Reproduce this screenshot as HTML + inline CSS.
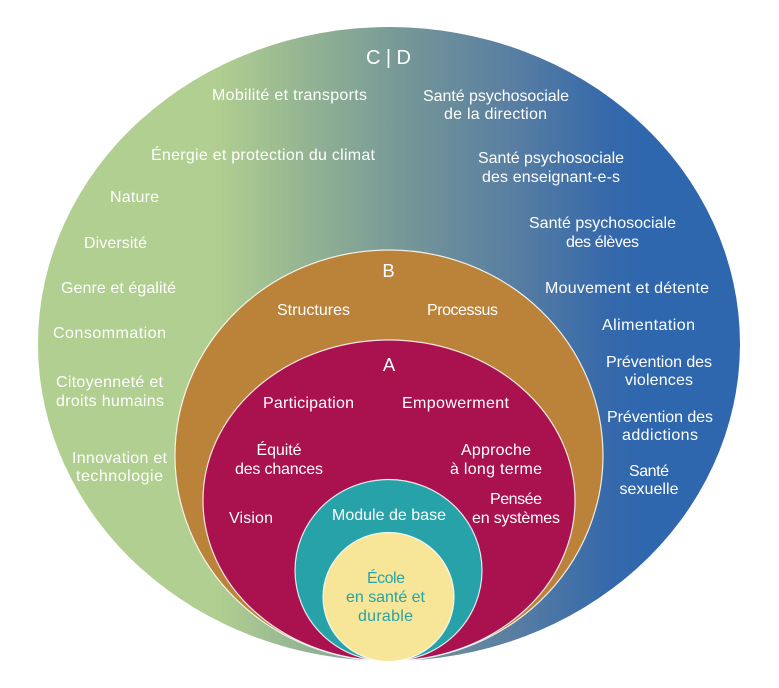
<!DOCTYPE html>
<html>
<head>
<meta charset="utf-8">
<style>
html,body{margin:0;padding:0;background:#fff;}
svg{display:block;}
text{font-family:"Liberation Sans",sans-serif;font-size:16px;fill:#fff;text-anchor:middle;}
</style>
</head>
<body>
<svg width="779" height="688" viewBox="0 0 779 688" xmlns="http://www.w3.org/2000/svg">
<defs>
<linearGradient id="g" gradientUnits="userSpaceOnUse" x1="0" y1="0" x2="779" y2="0">
<stop offset="0" stop-color="#b1cf90"/>
<stop offset="0.276" stop-color="#b1cf90"/>
<stop offset="0.402" stop-color="#91b293"/>
<stop offset="0.530" stop-color="#739598"/>
<stop offset="0.659" stop-color="#587ea2"/>
<stop offset="0.787" stop-color="#3468ab"/>
<stop offset="0.822" stop-color="#2f67ae"/>
<stop offset="1" stop-color="#2f67ae"/>
</linearGradient>
</defs>
<ellipse cx="389" cy="344" rx="351" ry="317" fill="url(#g)"/>
<ellipse cx="389" cy="455.5" rx="214" ry="205.5" fill="#bb823a" stroke="#fff" stroke-opacity="0.85" stroke-width="1.2"/>
<ellipse cx="389" cy="500.5" rx="186" ry="160.5" fill="#a9124e" stroke="#fff" stroke-opacity="0.85" stroke-width="1.2"/>
<ellipse cx="388.5" cy="570.5" rx="93.5" ry="91" fill="#28a2a9" stroke="#fff" stroke-opacity="0.85" stroke-width="1.2"/>
<ellipse cx="388.5" cy="597" rx="65.5" ry="64.5" fill="#f7e697" stroke="#fff" stroke-opacity="0.85" stroke-width="1.2"/>

<text x="388.5" y="64" style="font-size:20px" textLength="45" lengthAdjust="spacing">C | D</text>
<text x="388.5" y="277" style="font-size:18.5px">B</text>
<text x="389" y="371" style="font-size:18.5px">A</text>

<!-- left (C) -->
<text x="289.5" y="100" textLength="155" lengthAdjust="spacing">Mobilité et transports</text>
<text x="263" y="160" textLength="224" lengthAdjust="spacing">Énergie et protection du climat</text>
<text x="134.5" y="202" textLength="49" lengthAdjust="spacing">Nature</text>
<text x="115.5" y="248" textLength="63" lengthAdjust="spacing">Diversité</text>
<text x="118.5" y="293" textLength="115" lengthAdjust="spacing">Genre et égalité</text>
<text x="109.5" y="338" textLength="113" lengthAdjust="spacing">Consommation</text>
<text x="109.5" y="387" textLength="107" lengthAdjust="spacing">Citoyenneté et</text>
<text x="110" y="406" textLength="108" lengthAdjust="spacing">droits humains</text>
<text x="119.5" y="463" textLength="95" lengthAdjust="spacing">Innovation et</text>
<text x="119.5" y="481" textLength="87" lengthAdjust="spacing">technologie</text>

<!-- right (D) -->
<text x="496" y="101" textLength="146" lengthAdjust="spacing">Santé psychosociale</text>
<text x="495.5" y="119" textLength="103" lengthAdjust="spacing">de la direction</text>
<text x="551" y="163" textLength="146" lengthAdjust="spacing">Santé psychosociale</text>
<text x="551" y="182" textLength="138" lengthAdjust="spacing">des enseignant-e-s</text>
<text x="602.5" y="228" textLength="147" lengthAdjust="spacing">Santé psychosociale</text>
<text x="602.5" y="247" textLength="73" lengthAdjust="spacing">des élèves</text>
<text x="627" y="293" textLength="164" lengthAdjust="spacing">Mouvement et détente</text>
<text x="648.5" y="330" textLength="93" lengthAdjust="spacing">Alimentation</text>
<text x="659" y="367" textLength="106" lengthAdjust="spacing">Prévention des</text>
<text x="659" y="385" textLength="68" lengthAdjust="spacing">violences</text>
<text x="660" y="422" textLength="106" lengthAdjust="spacing">Prévention des</text>
<text x="660" y="440" textLength="76" lengthAdjust="spacing">addictions</text>
<text x="649" y="476" textLength="40" lengthAdjust="spacing">Santé</text>
<text x="649" y="494" textLength="59" lengthAdjust="spacing">sexuelle</text>

<!-- B -->
<text x="313.5" y="315" textLength="73" lengthAdjust="spacing">Structures</text>
<text x="462.5" y="315" textLength="71" lengthAdjust="spacing">Processus</text>

<!-- A -->
<text x="308.5" y="408" textLength="91" lengthAdjust="spacing">Participation</text>
<text x="455.5" y="408" textLength="107" lengthAdjust="spacing">Empowerment</text>
<text x="279" y="455" textLength="45" lengthAdjust="spacing">Équité</text>
<text x="279" y="474" textLength="88" lengthAdjust="spacing">des chances</text>
<text x="496" y="455" textLength="70" lengthAdjust="spacing">Approche</text>
<text x="496" y="474" textLength="92" lengthAdjust="spacing">à long terme</text>
<text x="251" y="523" textLength="44" lengthAdjust="spacing">Vision</text>
<text x="516" y="504" textLength="52" lengthAdjust="spacing">Pensée</text>
<text x="516" y="523" textLength="88" lengthAdjust="spacing">en systèmes</text>

<!-- core -->
<text x="389" y="520" textLength="114" lengthAdjust="spacing">Module de base</text>
<text x="386" y="583" textLength="38" lengthAdjust="spacing" style="fill:#28a2a9">École</text>
<text x="385.5" y="602" textLength="79" lengthAdjust="spacing" style="fill:#28a2a9">en santé et</text>
<text x="385.5" y="621" textLength="55" lengthAdjust="spacing" style="fill:#28a2a9">durable</text>
</svg>
</body>
</html>
